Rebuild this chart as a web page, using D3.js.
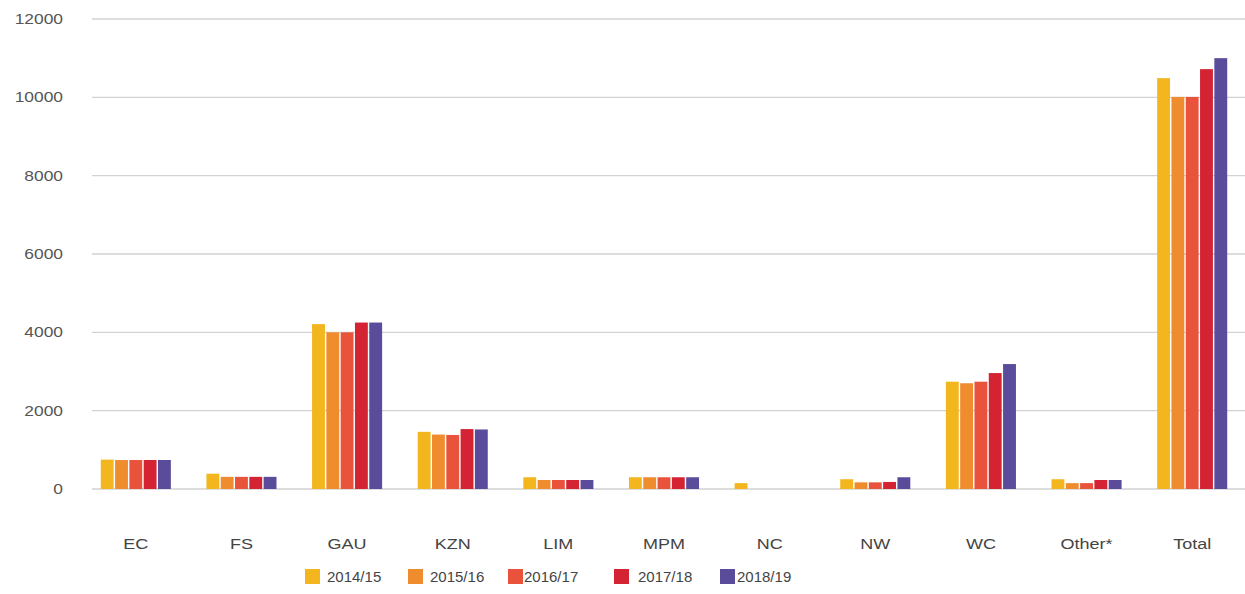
<!DOCTYPE html>
<html>
<head>
<meta charset="utf-8">
<script src="https://cdn.jsdelivr.net/npm/d3@7"></script>
<style>
  html, body { margin: 0; padding: 0; background: #fff; }
  svg { display: block; font-family: "Liberation Sans", Arial, sans-serif; }
</style>
</head>
<body>
<svg id="chart" width="1245" height="594"></svg>
<script>
// Provinces / groups along the x axis
const categories = ["EC", "FS", "GAU", "KZN", "LIM", "MPM", "NC", "NW", "WC", "Other*", "Total"];
// Financial years shown as series
const years = ["2014/15", "2015/16", "2016/17", "2017/18", "2018/19"];
const yTicks = [0, 2000, 4000, 6000, 8000, 10000, 12000];

// Values per series, in category order
const v2014 = [750, 390, 4210, 1460, 300, 300, 150, 250, 2740, 250, 10490];
const v2015 = [740, 310, 4000, 1390, 230, 300, 0, 170, 2700, 150, 10010];
const v2016 = [740, 310, 4000, 1380, 230, 300, 0, 170, 2740, 150, 10010];
const v2017 = [740, 310, 4250, 1530, 230, 300, 0, 180, 2960, 230, 10720];
const v2018 = [740, 310, 4250, 1520, 230, 300, 0, 300, 3190, 230, 11000];
const seriesValues = [v2014, v2015, v2016, v2017, v2018];

const colors = ["#F3B61F", "#EF8C2E", "#E9533B", "#D42332", "#5B4B9B"];

const svg = d3.select("#chart");
const W = 1245;
const baseY = 489, topY = 19;

const x = d3.scaleBand().domain(categories).range([83, W]).padding(0);
const groupW = 71.5;
const bw = x.bandwidth();
const xs = d3.scaleBand().domain(years)
  .range([(bw - groupW) / 2, (bw + groupW) / 2])
  .paddingInner(0.1).paddingOuter(0.05);
const y = d3.scaleLinear().domain([0, 12000]).range([baseY, topY]);

// Horizontal gridlines
svg.append("g")
  .selectAll("line")
  .data(yTicks)
  .join("line")
  .attr("x1", 92).attr("x2", W)
  .attr("y1", d => y(d)).attr("y2", d => y(d))
  .attr("stroke", "#d2d2d2").attr("stroke-width", 1.3);

// Y axis labels (slightly wide lettering)
svg.append("g")
  .selectAll("text")
  .data(y.ticks(6))
  .join("text")
  .attr("transform", d => `translate(63,${y(d)}) scale(1.2,1)`)
  .attr("text-anchor", "end")
  .attr("dy", "0.35em")
  .attr("fill", "#555")
  .attr("font-size", 14.5)
  .text(d3.format("d"));

// X axis labels
svg.append("g")
  .selectAll("text")
  .data(categories)
  .join("text")
  .attr("transform", d => `translate(${x(d) + bw / 2},${baseY + 55}) scale(1.2,1)`)
  .attr("text-anchor", "middle")
  .attr("dy", "0.35em")
  .attr("fill", "#444")
  .attr("font-size", 15)
  .text(d => d);

// Bars
const rows = [];
categories.forEach((c, i) => {
  years.forEach((yr, j) => rows.push({ cat: c, year: yr, value: seriesValues[j][i], color: colors[j] }));
});
svg.append("g")
  .selectAll("rect")
  .data(rows.filter(d => d.value > 0))
  .join("rect")
  .attr("x", d => x(d.cat) + xs(d.year))
  .attr("width", xs.bandwidth())
  .attr("y", d => y(d.value))
  .attr("height", d => y(0) - y(d.value))
  .attr("fill", d => d.color);

// Legend
const swatchX = [305, 408, 508, 614, 720];
const labelX = [327, 430, 524, 638, 737];
const lg = svg.append("g").attr("transform", "translate(0,577)");
lg.selectAll("rect").data(years).join("rect")
  .attr("x", (d, i) => swatchX[i]).attr("y", -8)
  .attr("width", 15).attr("height", 15)
  .attr("fill", (d, i) => colors[i]);
lg.selectAll("text").data(years).join("text")
  .attr("x", (d, i) => labelX[i]).attr("y", 0).attr("dy", "0.35em")
  .attr("fill", "#444").attr("font-size", 15).text(d => d);
</script>
</body>
</html>
